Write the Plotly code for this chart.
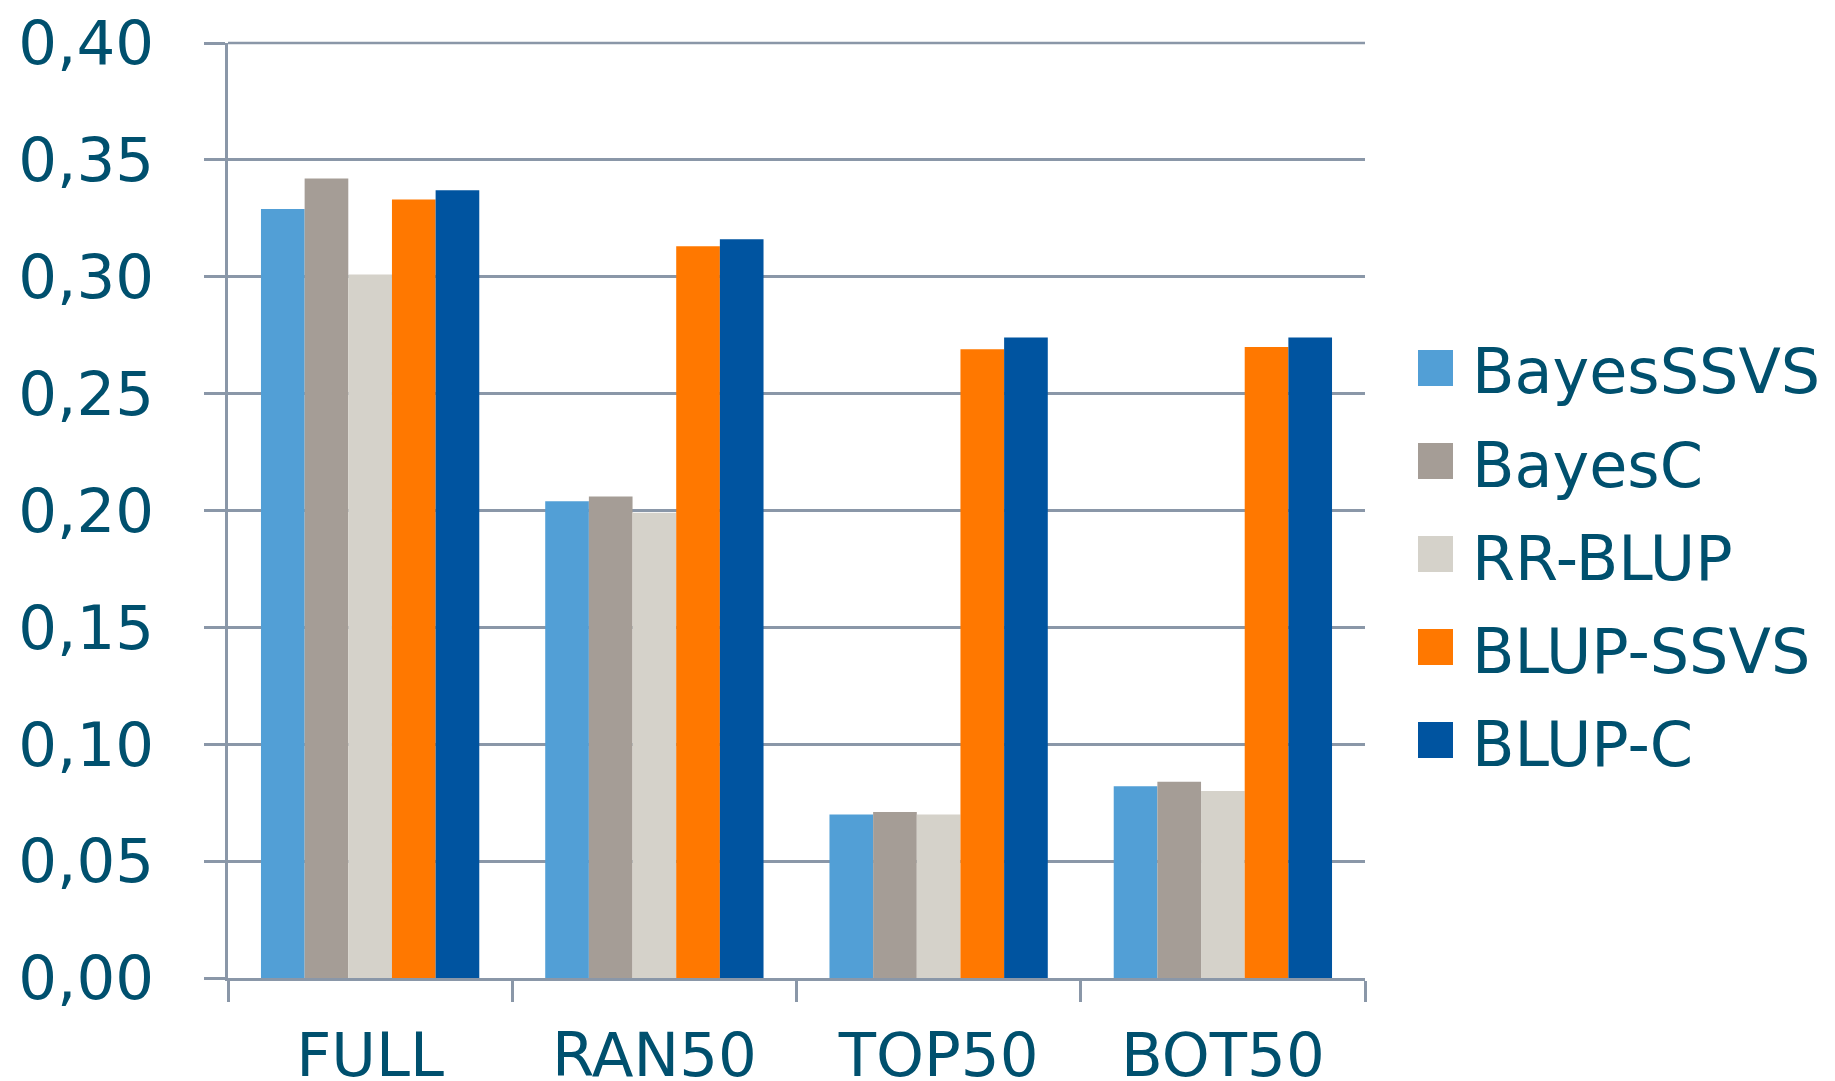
import plotly.graph_objects as go

categories = ["FULL", "RAN50", "TOP50", "BOT50"]
series_names = ["BayesSSVS", "BayesC", "RR-BLUP", "BLUP-SSVS", "BLUP-C"]
bayes_ssvs = [0.329, 0.204, 0.070, 0.082]
bayes_c = [0.342, 0.206, 0.071, 0.084]
rr_blup = [0.301, 0.199, 0.070, 0.080]
blup_ssvs = [0.333, 0.313, 0.269, 0.270]
blup_c = [0.337, 0.316, 0.274, 0.274]
colors = ["#529FD6", "#A59D96", "#D5D2CA", "#FF7800", "#0054A0"]
y_ticks = [0.0, 0.05, 0.10, 0.15, 0.20, 0.25, 0.30, 0.35, 0.40]

series_values = [bayes_ssvs, bayes_c, rr_blup, blup_ssvs, blup_c]

TEXT = "#00506E"
GRID = "#8A97A8"
FONT = "DejaVu Sans"

fig = go.Figure()
for name, vals, col in zip(series_names, series_values, colors):
    fig.add_trace(go.Bar(x=categories, y=vals, name=name,
                         marker=dict(color=col, line=dict(width=0)),
                         showlegend=False))

W, H = 1835, 1081
ml, mr, mt, mb = 220, 478, 35, 111
fig.update_layout(
    width=W, height=H,
    margin=dict(l=ml, r=mr, t=mt, b=mb),
    paper_bgcolor="white", plot_bgcolor="white",
    barmode="group", bargap=0.232, bargroupgap=0,
    separators=",.",
    font=dict(family=FONT, color=TEXT, size=61),
)
fig.update_yaxes(
    range=[0, 0.40], tickvals=y_ticks, tickformat=".2f",
    showgrid=True, gridcolor=GRID, gridwidth=2.5,
    zeroline=False, showline=True, linecolor=GRID, linewidth=2.5,
    ticks="outside", ticklen=21, tickwidth=2.5, tickcolor=GRID,
    ticklabelstandoff=38, automargin=False, ticklabeloverflow="allow",
    tickfont=dict(family=FONT, size=61, color=TEXT),
)
fig.update_xaxes(
    showgrid=False, showline=True, linecolor=GRID, linewidth=2.5,
    ticks="outside", tickson="boundaries", ticklen=21, tickwidth=2.5, tickcolor=GRID,
    ticklabelstandoff=22, automargin=False, ticklabeloverflow="allow",
    tickfont=dict(family=FONT, size=61, color=TEXT),
)

pw = W - ml - mr
ph = H - mt - mb
def px_x(x):
    return (x - ml) / pw
def px_y(y):
    return 1 - (y - mt) / ph

# top gridline at the 0.40 edge (plotly skips the edge gridline); paper ref so it is not clipped
fig.add_shape(type="line", xref="paper", yref="paper", x0=0, x1=1, y0=1, y1=1,
              line=dict(color=GRID, width=2.5), layer="below")

# legend drawn manually (large square swatches)
leg_y0 = 360
leg_step = 93
for i, (name, col) in enumerate(zip(series_names, colors)):
    cy = leg_y0 + i * leg_step
    fig.add_shape(type="rect", xref="paper", yref="paper",
                  x0=px_x(1410), x1=px_x(1445), y0=px_y(cy - 18), y1=px_y(cy + 18),
                  fillcolor=col, line=dict(width=0))
    fig.add_annotation(xref="paper", yref="paper", x=px_x(1462), y=px_y(cy + 4),
                       text=name, showarrow=False, xanchor="left", yanchor="middle",
                       font=dict(family=FONT, size=62, color=TEXT))

fig.write_html("out.html")
